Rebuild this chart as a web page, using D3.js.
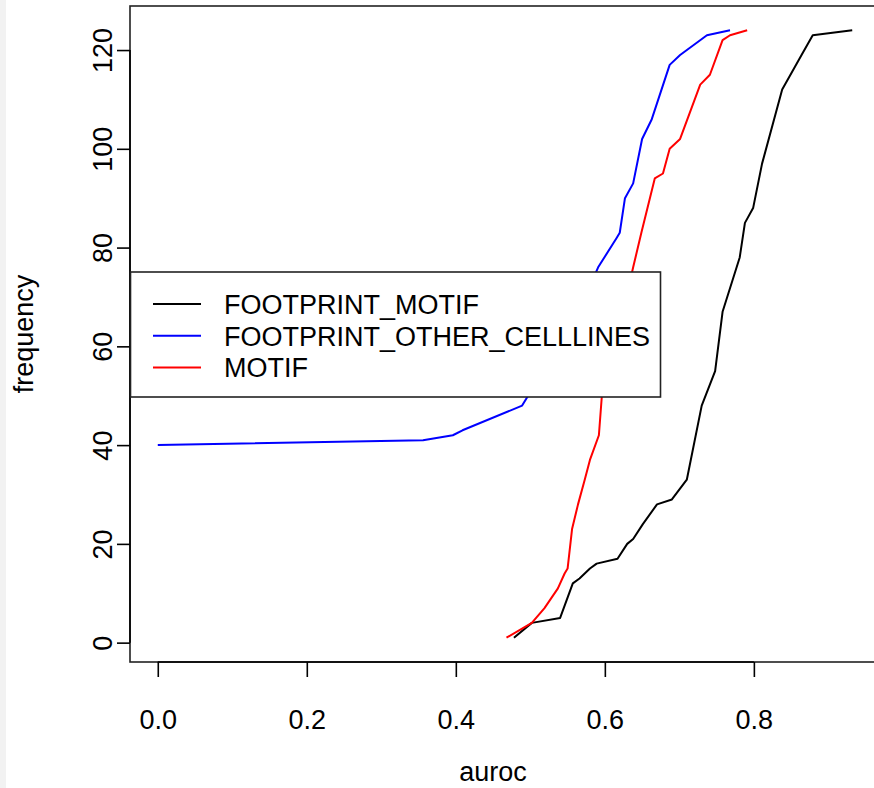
<!DOCTYPE html>
<html>
<head>
<meta charset="utf-8">
<script src="https://cdn.jsdelivr.net/npm/d3@7"></script>
<style>
  body { margin: 0; background: #fff; }
  text { font-family: "Liberation Sans", Arial, Helvetica, sans-serif; fill: #000; }
</style>
</head>
<body>
<div class="canva"></div>
<script>
// 資料：三條累積曲線 (auroc 排序後的頻數)
const footprintMotifX = [0.478,0.502,0.540,0.557,0.566,0.580,0.589,0.617,0.630,0.638,0.651,0.670,0.690,0.710,0.730,0.748,0.758,0.781,0.788,0.799,0.811,0.838,0.864,0.879,0.932];
const footprintMotifY = [1,4,5,12,13,15,16,17,20,21,24,28,29,33,48,55,67,78,85,88,97,112,119,123,124];

const otherCellX = [0,0.356,0.396,0.409,0.489,0.497,0.550,0.591,0.616,0.620,0.627,0.638,0.650,0.663,0.687,0.701,0.737,0.768];
const otherCellY = [40,41,42,43,48,50,62,76,82,83,90,93,102,106,117,119,123,124];

const motifX = [0.468,0.502,0.519,0.537,0.546,0.550,0.556,0.564,0.573,0.580,0.592,0.596,0.617,0.638,0.649,0.667,0.678,0.687,0.701,0.728,0.741,0.758,0.768,0.791];
const motifY = [1,4,7,11,14,15,23,28,33,37,42,50,62,76,83,94,95,100,102,113,115,122,123,124];

const seriesNames = ['FOOTPRINT_MOTIF','FOOTPRINT_OTHER_CELLLINES','MOTIF'];
const seriesColors = ['#000000','#0000ff','#ff0000'];

const xTicks = [0,0.2,0.4,0.6,0.8];
const yTicks = [0,20,40,60,80,100,120];

const series = [
  {xs: footprintMotifX, ys: footprintMotifY},
  {xs: otherCellX, ys: otherCellY},
  {xs: motifX, ys: motifY}
];

const svg = d3.select('.canva').append('svg')
              .attr('width',874)
              .attr('height',788);

// 左邊的淺灰邊
svg.append('rect').attr('x',0).attr('y',0)
                  .attr('width',6).attr('height',788)
                  .attr('fill','#f2f2f2');

// R 的預設：範圍左右各多 4%
const allX = series.flatMap(s=>s.xs);
const allY = series.flatMap(s=>s.ys);
const [x0,x1] = d3.extent(allX);
const [y0,y1] = d3.extent(allY);
const px = (x1-x0)*0.04, py = (y1-y0)*0.04;

const x = d3.scaleLinear().domain([x0-px, x1+px]).range([130,880]);
const y = d3.scaleLinear().domain([y0-py, y1+py]).range([662,6]);

const line = d3.line().x(d=>x(d[0])).y(d=>y(d[1]));

// 曲線
series.forEach((s,i)=>{
  svg.append('path')
     .datum(d3.zip(s.xs, s.ys))
     .attr('d', line)
     .attr('fill','none')
     .attr('stroke', seriesColors[i])
     .attr('stroke-width',2)
     .attr('stroke-linejoin','round');
});

// 外框
svg.append('rect').attr('x',x.range()[0]).attr('y',y.range()[1])
                  .attr('width',x.range()[1]-x.range()[0])
                  .attr('height',y.range()[0]-y.range()[1])
                  .attr('fill','none')
                  .attr('stroke','#222')
                  .attr('stroke-width',1.6);

// x 軸
const gx = svg.append('g')
              .attr('transform',`translate(0,${y.range()[0]})`)
              .call(d3.axisBottom(x).tickValues(xTicks)
                      .tickFormat(d3.format('.1f'))
                      .tickSizeInner(15).tickSizeOuter(0).tickPadding(12));
gx.select('.domain').remove();
gx.append('line').attr('x1',x(xTicks[0])).attr('x2',x(xTicks[xTicks.length-1]))
                 .attr('stroke','#000').attr('stroke-width',1.6);
gx.selectAll('.tick line').attr('stroke','#000').attr('stroke-width',1.6);
gx.selectAll('.tick text').attr('font-size',27)
                          .attr('font-family','"Liberation Sans", Arial, sans-serif')
                          .attr('fill','#000')
                          .attr('dy',0).attr('y',67);

// y 軸 (標籤轉 90 度)
const gy = svg.append('g')
              .attr('transform',`translate(${x.range()[0]},0)`)
              .call(d3.axisLeft(y).tickValues(yTicks)
                      .tickSizeInner(13).tickSizeOuter(0));
gy.select('.domain').remove();
gy.append('line').attr('y1',y(yTicks[0])).attr('y2',y(yTicks[yTicks.length-1]))
                 .attr('stroke','#000').attr('stroke-width',1.6);
gy.selectAll('.tick line').attr('stroke','#000').attr('stroke-width',1.6);
gy.selectAll('.tick text').attr('font-size',27)
                          .attr('font-family','"Liberation Sans", Arial, sans-serif')
                          .attr('fill','#000')
                          .attr('x',0).attr('dy',0)
                          .attr('text-anchor','middle')
                          .attr('transform','translate(-18,0) rotate(-90)');

// 軸標題
svg.append('text').text('auroc')
                  .attr('x',(x.range()[0]+x.range()[1])/2 - 12)
                  .attr('y',781)
                  .attr('text-anchor','middle')
                  .attr('font-size',27);

svg.append('text').text('frequency')
                  .attr('transform',`translate(33,${(y.range()[0]+y.range()[1])/2}) rotate(-90)`)
                  .attr('text-anchor','middle')
                  .attr('font-size',27);

// 圖例 (白底蓋住曲線)
const legend = svg.append('g');
legend.append('rect').attr('x',130.5).attr('y',272)
                     .attr('width',530).attr('height',125)
                     .attr('fill','#fff')
                     .attr('stroke','#222')
                     .attr('stroke-width',1.6);

const rows = legend.selectAll('g.row')
                   .data(seriesNames)
                   .enter().append('g')
                   .attr('class','row')
                   .attr('transform',(d,i)=>`translate(0,${304 + i*31.7})`);
rows.append('line').attr('x1',153).attr('x2',201)
                   .attr('stroke',(d,i)=>seriesColors[i])
                   .attr('stroke-width',2);
rows.append('text').text(d=>d)
                   .attr('x',224)
                   .attr('y',10)
                   .attr('font-size',27);
</script>
</body>
</html>
